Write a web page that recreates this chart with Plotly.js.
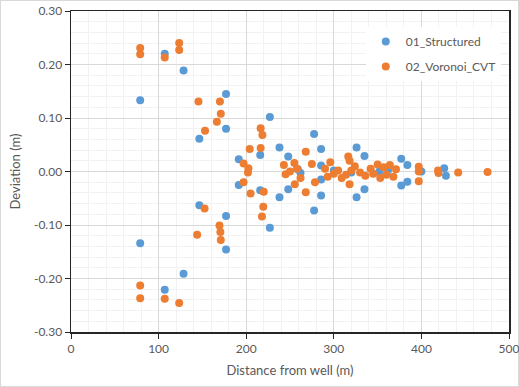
<!DOCTYPE html>
<html>
<head>
<meta charset="utf-8">
<script src="https://cdn.plot.ly/plotly-3.0.1.min.js"></script>
<style>
  html, body { margin: 0; padding: 0; background: #ffffff; }
  #chart { width: 519px; height: 387px; box-sizing: border-box; border: 1px solid #d9d9d9; }
</style>
</head>
<body>
<div id="chart"></div>
<script>
// Deviation of the simulated front vs. distance from the well, two grid types
const structuredX = [79, 79, 107, 107, 128.5, 128.5, 146.5, 146.5, 177, 177, 177, 177,
  191.5, 191.5, 216, 216, 227, 227, 238, 238, 248, 248, 259, 262,
  277.5, 277.5, 285.5, 285.5, 285.5, 285.5, 300, 320, 326, 326, 335, 335,
  352, 362, 377, 377, 384, 384, 400, 426, 428];
const structuredY = [0.133, -0.134, 0.220, -0.221, 0.189, -0.191, 0.061, -0.063, 0.145, -0.146, 0.080, -0.083,
  0.023, -0.025, 0.031, -0.035, 0.102, -0.105, 0.045, -0.048, 0.028, -0.033, 0.004, -0.003,
  0.070, -0.073, 0.042, -0.045, 0.011, -0.015, 0.002, -0.002, 0.045, -0.048, 0.029, -0.033,
  0.000, 0.003, 0.024, -0.026, 0.012, -0.019, 0.000, 0.006, -0.008];

const voronoiX = [79, 79, 79, 79, 107, 107, 123.5, 123.5, 123.5, 145.5, 144, 153, 152.5,
  170, 171, 166.5, 169.5, 170.5, 171, 197, 197, 202.5, 202, 204, 205,
  216.5, 218.5, 216.5, 220, 219.5, 218,
  243, 245, 250, 255, 255.5, 258, 262, 268, 268, 275, 278.5,
  290, 296, 293, 300, 305, 309, 316.5, 318, 318, 314, 320, 324, 330, 336, 342, 345,
  350, 353, 357, 360, 364, 368, 371, 397, 397, 397, 419.5, 419, 442, 475.5];
const voronoiY = [0.231, 0.219, -0.213, -0.237, 0.213, -0.238, 0.240, 0.227, -0.246, 0.131, -0.118, 0.076, -0.069,
  0.131, 0.108, 0.093, -0.101, -0.113, -0.128, 0.015, -0.020, 0.006, -0.002, 0.042, -0.041,
  0.081, 0.068, 0.044, -0.038, -0.066, -0.084,
  0.012, -0.005, 0.000, 0.016, -0.024, 0.005, -0.012, 0.037, -0.039, 0.014, -0.020,
  0.005, 0.0175, -0.010, -0.004, 0.002, -0.012, 0.028, 0.020, -0.024, -0.006, 0.002, 0.010, -0.002, -0.008, 0.005, -0.004,
  0.013, -0.012, 0.008, -0.006, 0.012, -0.010, 0.004, 0.009, 0.000, -0.018, -0.003, 0.002, -0.002, -0.001];

const seriesNames = ['01_Structured', '02_Voronoi_CVT'];
const yTickVals = [-0.3, -0.2, -0.1, 0, 0.1, 0.2, 0.3];
const yTickText = ['-0.30', '-0.20', '-0.10', '0.00', '0.10', '0.20', '0.30'];
const xTickVals = [0, 100, 200, 300, 400, 500];

const font = 'Lato, "Liberation Sans", sans-serif';
const textColor = '#595959';

const traces = [
  { x: structuredX, y: structuredY, name: seriesNames[0], type: 'scatter', mode: 'markers',
    legendgroup: 'a', marker: { color: '#5b9bd5', size: 8 } },
  { x: voronoiX, y: voronoiY, name: seriesNames[1], type: 'scatter', mode: 'markers',
    legendgroup: 'b', marker: { color: '#ed7d31', size: 8 } }
];

const axisCommon = {
  showline: true, mirror: true, linecolor: '#262626', linewidth: 1.5,
  ticks: 'outside', ticklen: 5, tickcolor: '#262626', tickwidth: 1,
  showgrid: true, gridcolor: '#d9d9d9', gridwidth: 1,
  zeroline: false,
  tickfont: { family: font, size: 12, color: textColor }
};

const layout = {
  width: 519, height: 387,
  margin: { l: 70, r: 11, t: 10, b: 56 },
  paper_bgcolor: 'rgba(0,0,0,0)', plot_bgcolor: '#ffffff',
  showlegend: true,
  legend: {
    x: 0.673, y: 0.95, xanchor: 'left', yanchor: 'top',
    bgcolor: '#ffffff', borderwidth: 0,
    traceorder: 'grouped', tracegroupgap: 6,
    font: { family: font, size: 12, color: textColor }
  },
  xaxis: Object.assign({}, axisCommon, {
    range: [0, 500], tickmode: 'array', tickvals: xTickVals,
    minor: { dtick: 20, showgrid: true, gridcolor: '#f2f2f2', gridwidth: 1 },
    title: { text: 'Distance from well (m)', standoff: 11, font: { family: font, size: 13, color: textColor } }
  }),
  yaxis: Object.assign({}, axisCommon, {
    range: [-0.3, 0.3], tickmode: 'array', tickvals: yTickVals, ticktext: yTickText,
    minor: { dtick: 0.02, showgrid: true, gridcolor: '#f2f2f2', gridwidth: 1 },
    title: { text: 'Deviation (m)', standoff: 10, font: { family: font, size: 13, color: textColor } }
  })
};

Plotly.newPlot('chart', traces, layout, { displayModeBar: false, staticPlot: true });
</script>
</body>
</html>
